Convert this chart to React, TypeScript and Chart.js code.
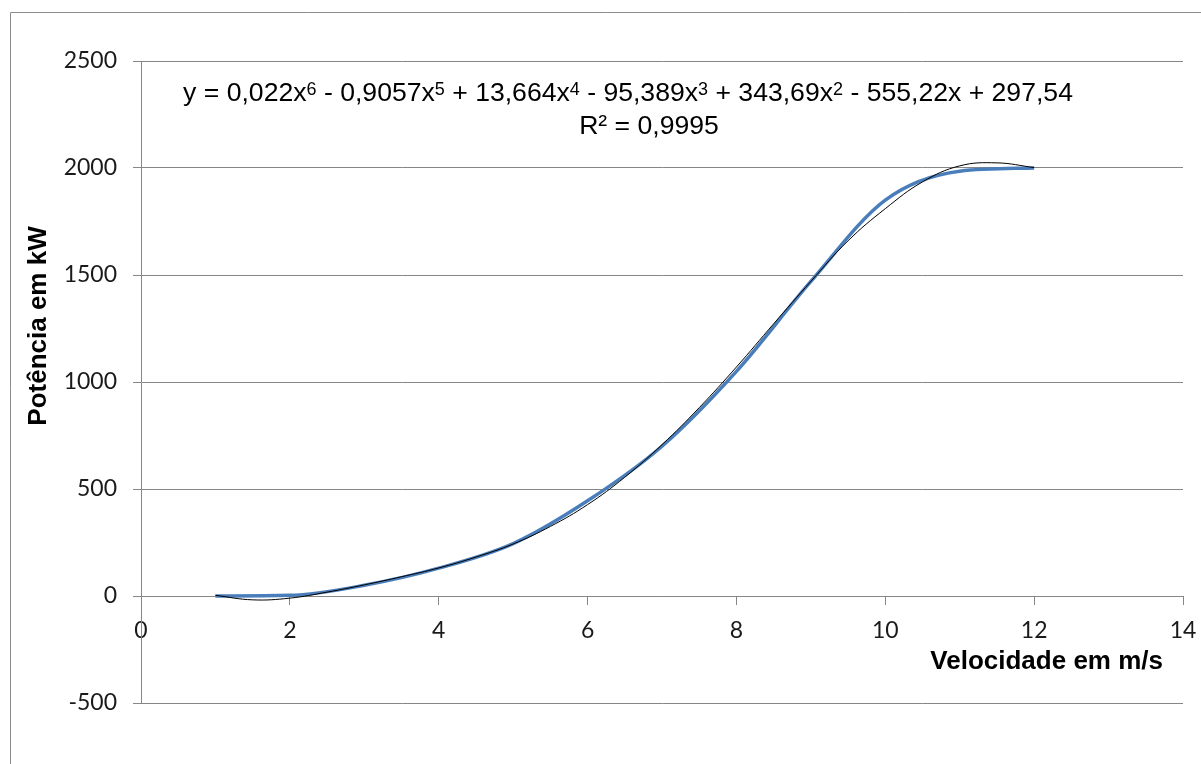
import { useEffect, useRef } from "react";
import { Chart, registerables } from "chart.js";

Chart.register(...registerables);

// Measured power curve (blue, smoothed line)
const speedsMs = [1, 2, 3, 4, 5, 6, 7, 8, 9, 10, 11, 12];
const powerKw = [0, 3, 50, 130, 245, 445, 700, 1050, 1470, 1850, 1985, 2000];

// 6th-order polynomial trendline (thin black)
const trendSpeeds = [1, 1.5, 2, 2.5, 3, 3.5, 4, 4.5, 5, 5.5, 6, 6.5, 7, 7.5, 8, 8.5, 9, 9.5, 10, 10.5, 11, 11.5, 12];
const trendPower = [3, -18, -10, 18, 52, 90, 131, 182, 243, 325, 427, 555, 707, 880, 1070, 1272, 1470, 1660, 1810, 1935, 2010, 2024, 2002];

// Axis ranges / ticks
const xMin = 0, xMax = 14, xStep = 2;
const yMin = -500, yMax = 2500, yStep = 500;

const xTitle = "Velocidade em m/s";
const yTitle = "Potência em kW";
// equation segments: [text, isSuperscript]
const equationParts: [string, boolean][] = [
  ["y = 0,022x", false], ["6", true],
  [" - 0,9057x", false], ["5", true],
  [" + 13,664x", false], ["4", true],
  [" - 95,389x", false], ["3", true],
  [" + 343,69x", false], ["2", true],
  [" - 555,22x + 297,54", false],
];
const r2Text = "R² = 0,9995";

const GRID = "#868686";

const annotPlugin = {
  id: "annot",
  beforeDraw(chart: any) {
    const ctx = chart.ctx;
    ctx.save();
    ctx.strokeStyle = "#8c8c8c";
    ctx.lineWidth = 1;
    ctx.beginPath();
    ctx.moveTo(10.5, chart.height + 5);
    ctx.lineTo(10.5, 12.5);
    ctx.lineTo(chart.width + 5, 12.5);
    ctx.stroke();
    ctx.restore();
  },
  afterDraw(chart: any) {
    const ctx = chart.ctx;
    ctx.save();
    ctx.fillStyle = "#000";
    // equation line
    const mainFont = "26.6px 'Liberation Sans', Arial, sans-serif";
    const supFont = "18px 'Liberation Sans', Arial, sans-serif";
    let total = 0;
    const widths = equationParts.map(([t, sup]) => {
      ctx.font = sup ? supFont : mainFont;
      const w = ctx.measureText(t).width;
      total += w;
      return w;
    });
    let x = 628 - total / 2;
    const base = 101;
    ctx.textBaseline = "alphabetic";
    ctx.textAlign = "left";
    equationParts.forEach(([t, sup], i) => {
      ctx.font = sup ? supFont : mainFont;
      ctx.fillText(t, x, sup ? base - 6.5 : base);
      x += widths[i];
    });
    ctx.font = mainFont;
    ctx.textAlign = "center";
    ctx.fillText(r2Text, 649, 134);

    // axis titles
    ctx.font = "bold 26px 'Liberation Sans', Arial, sans-serif";
    ctx.textAlign = "right";
    ctx.fillText(xTitle, 1163, 669);
    ctx.save();
    ctx.translate(46, 326);
    ctx.rotate(-Math.PI / 2);
    ctx.textAlign = "center";
    ctx.fillText(yTitle, 0, 0);
    ctx.restore();
    ctx.restore();
  },
};

export default function App() {
  const ref = useRef<HTMLCanvasElement | null>(null);
  useEffect(() => {
    if (!ref.current) return;
    const tickFont = { family: "Lato, 'Open Sans', sans-serif", size: 23 };
    const plain = (v: any) => String(v);
    const chart = new Chart(ref.current, {
      type: "scatter",
      data: {
        datasets: [
          {
            label: "Polinomial",
            data: trendSpeeds.map((s, i) => ({ x: s, y: trendPower[i] })),
            showLine: true,
            borderColor: "#000000",
            borderWidth: 1,
            pointRadius: 0,
            tension: 0.4,
            fill: false,
          },
          {
            label: "Potência",
            data: speedsMs.map((s, i) => ({ x: s, y: powerKw[i] })),
            showLine: true,
            borderColor: "#4a7ebb",
            borderWidth: 3.5,
            pointRadius: 0,
            cubicInterpolationMode: "monotone",
            fill: false,
          },
        ],
      },
      options: {
        animation: false,
        responsive: true,
        maintainAspectRatio: false,
        layout: { padding: { left: 0, top: 61, right: 18, bottom: 61 } },
        plugins: { legend: { display: false }, tooltip: { enabled: false } },
        scales: {
          x: {
            type: "linear",
            min: xMin,
            max: xMax,
            position: { y: 0 },
            ticks: { stepSize: xStep, font: tickFont, color: "#1a1a1a", padding: 13, maxRotation: 0, callback: plain },
            grid: { drawOnChartArea: false, drawTicks: true, tickLength: 8, color: GRID },
            border: { color: GRID, width: 1 },
            afterFit: (s: any) => {
              s.paddingLeft = 0;
              s.paddingRight = 0;
            },
          },
          y: {
            type: "linear",
            min: yMin,
            max: yMax,
            ticks: { stepSize: yStep, font: tickFont, color: "#1a1a1a", padding: 16, callback: plain },
            grid: { color: GRID, tickLength: 8 },
            border: { color: GRID, width: 1 },
            afterFit: (s: any) => {
              s.width = 141;
              s.paddingTop = 0;
              s.paddingBottom = 0;
            },
          },
        },
      },
      plugins: [annotPlugin],
    } as any);
    return () => chart.destroy();
  }, []);
  return (
    <div style={{ position: "absolute", left: 0, top: 0, width: 1201, height: 764, background: "#fff" }}>
      <canvas ref={ref} />
    </div>
  );
}
